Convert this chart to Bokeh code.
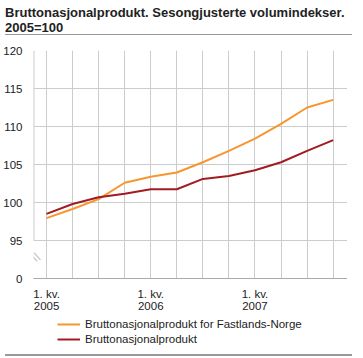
from bokeh.plotting import figure
from bokeh.models import FixedTicker, Legend, LegendItem, Label, Div
from bokeh.layouts import column
from bokeh.embed import file_html
from bokeh.resources import INLINE

# ---- data ----
quarters = ["1. kv.\n2005", "2. kv.\n2005", "3. kv.\n2005", "4. kv.\n2005",
            "1. kv.\n2006", "2. kv.\n2006", "3. kv.\n2006", "4. kv.\n2006",
            "1. kv.\n2007", "2. kv.\n2007", "3. kv.\n2007", "4. kv.\n2007"]
fastland = [97.95, 99.15, 100.45, 102.6, 103.4, 103.95, 105.3, 106.8, 108.4, 110.35, 112.5, 113.5]
bnp = [98.5, 99.8, 100.7, 101.15, 101.75, 101.75, 103.1, 103.5, 104.25, 105.3, 106.8, 108.2]
series_names = ["Bruttonasjonalprodukt for Fastlands-Norge", "Bruttonasjonalprodukt"]
y_ticks = [90, 95, 100, 105, 110, 115, 120]
y_tick_labels = ["0", "95", "100", "105", "110", "115", "120"]
title_lines = ["Bruttonasjonalprodukt. Sesongjusterte volumindekser.", "2005=100"]

x = list(range(len(quarters)))
label_ticks = [i for i, q in enumerate(quarters) if q.startswith("1.")]

FONT = "Liberation Sans"
W = 347
x_start = -0.5
c1 = "#f7962e"
c2 = "#a01c22"

title = Div(text="<br>".join(title_lines), width=W, height=30,
            styles={"font-family": FONT, "font-weight": "bold", "font-size": "13px",
                    "line-height": "15px", "color": "#222222",
                    "border-bottom": "1px solid #999999", "box-sizing": "border-box"})

p = figure(width=W, height=274, output_backend="svg", toolbar_location=None,
           x_range=(x_start, len(quarters) - 0.45), y_range=(y_ticks[0], y_ticks[-1]),
           min_border_left=27, min_border_right=0, min_border_top=10, min_border_bottom=28)
p.outline_line_color = None

# left edge of plot area (above the axis break)
p.segment(x0=[x_start], y0=[y_ticks[1]], x1=[x_start], y1=[y_ticks[-1]],
          line_color="#cccccc", line_width=2)

p.line(x, fastland, line_color=c1, line_width=2)
p.line(x, bnp, line_color=c2, line_width=2)

# axes
p.xaxis.ticker = FixedTicker(ticks=label_ticks)
p.xaxis.major_label_overrides = {i: quarters[i] for i in label_ticks}
p.xaxis.major_tick_line_color = None
p.xaxis.minor_tick_line_color = None
p.xaxis.axis_line_color = "#aaaaaa"
p.xaxis.axis_line_width = 1
p.xaxis.major_label_standoff = 3
p.xaxis.major_label_text_font = FONT
p.xaxis.major_label_text_font_size = "11.5px"
p.xaxis.major_label_text_color = "#222222"
p.xaxis.major_label_text_line_height = 1.0

p.yaxis.ticker = FixedTicker(ticks=y_ticks)
p.yaxis.major_label_overrides = dict(zip(y_ticks, y_tick_labels))
p.yaxis.major_tick_line_color = None
p.yaxis.minor_tick_line_color = None
p.yaxis.axis_line_color = None
p.yaxis.major_label_standoff = 5
p.yaxis.major_label_text_font = FONT
p.yaxis.major_label_text_font_size = "11.5px"
p.yaxis.major_label_text_color = "#222222"

p.xgrid.ticker = FixedTicker(ticks=x)
p.ygrid.ticker = FixedTicker(ticks=y_ticks[1:])
p.xgrid.grid_line_color = "#cccccc"
p.ygrid.grid_line_color = "#cccccc"

# axis break marks
brk = Label(x=2, y=13, x_units="screen", y_units="screen", text="\\\\",
            text_font=FONT, text_font_size="13px", text_color="#c0c0c0",
            angle=0.45)
p.add_layout(brk)

# legend in its own strip below the chart (series lines lie outside its view)
pl = figure(width=W, height=35, output_backend="svg", toolbar_location=None,
            x_axis_location=None, y_axis_location=None,
            x_range=(0, 1), y_range=(0, 1), min_border=0)
pl.grid.visible = False
pl.outline_line_color = None
l1 = pl.line(x, fastland, line_color=c1, line_width=2)
l2 = pl.line(x, bnp, line_color=c2, line_width=2)
legend = Legend(items=[LegendItem(label=series_names[0], renderers=[l1]),
                       LegendItem(label=series_names[1], renderers=[l2])],
                location=(24, 3), orientation="vertical", margin=0, padding=0, spacing=1,
                glyph_width=23, glyph_height=14, label_height=14, label_standoff=5,
                label_text_font=FONT, label_text_font_size="11.5px",
                label_text_color="#222222", border_line_color=None,
                background_fill_alpha=0)
pl.add_layout(legend, "center")

bottom = Div(text="", width=W, height=3,
             styles={"border-top": "2px solid #999999", "box-sizing": "border-box"})

layout = column(title, p, pl, bottom, spacing=0)
open("out.html", "w").write(file_html(layout, INLINE))
